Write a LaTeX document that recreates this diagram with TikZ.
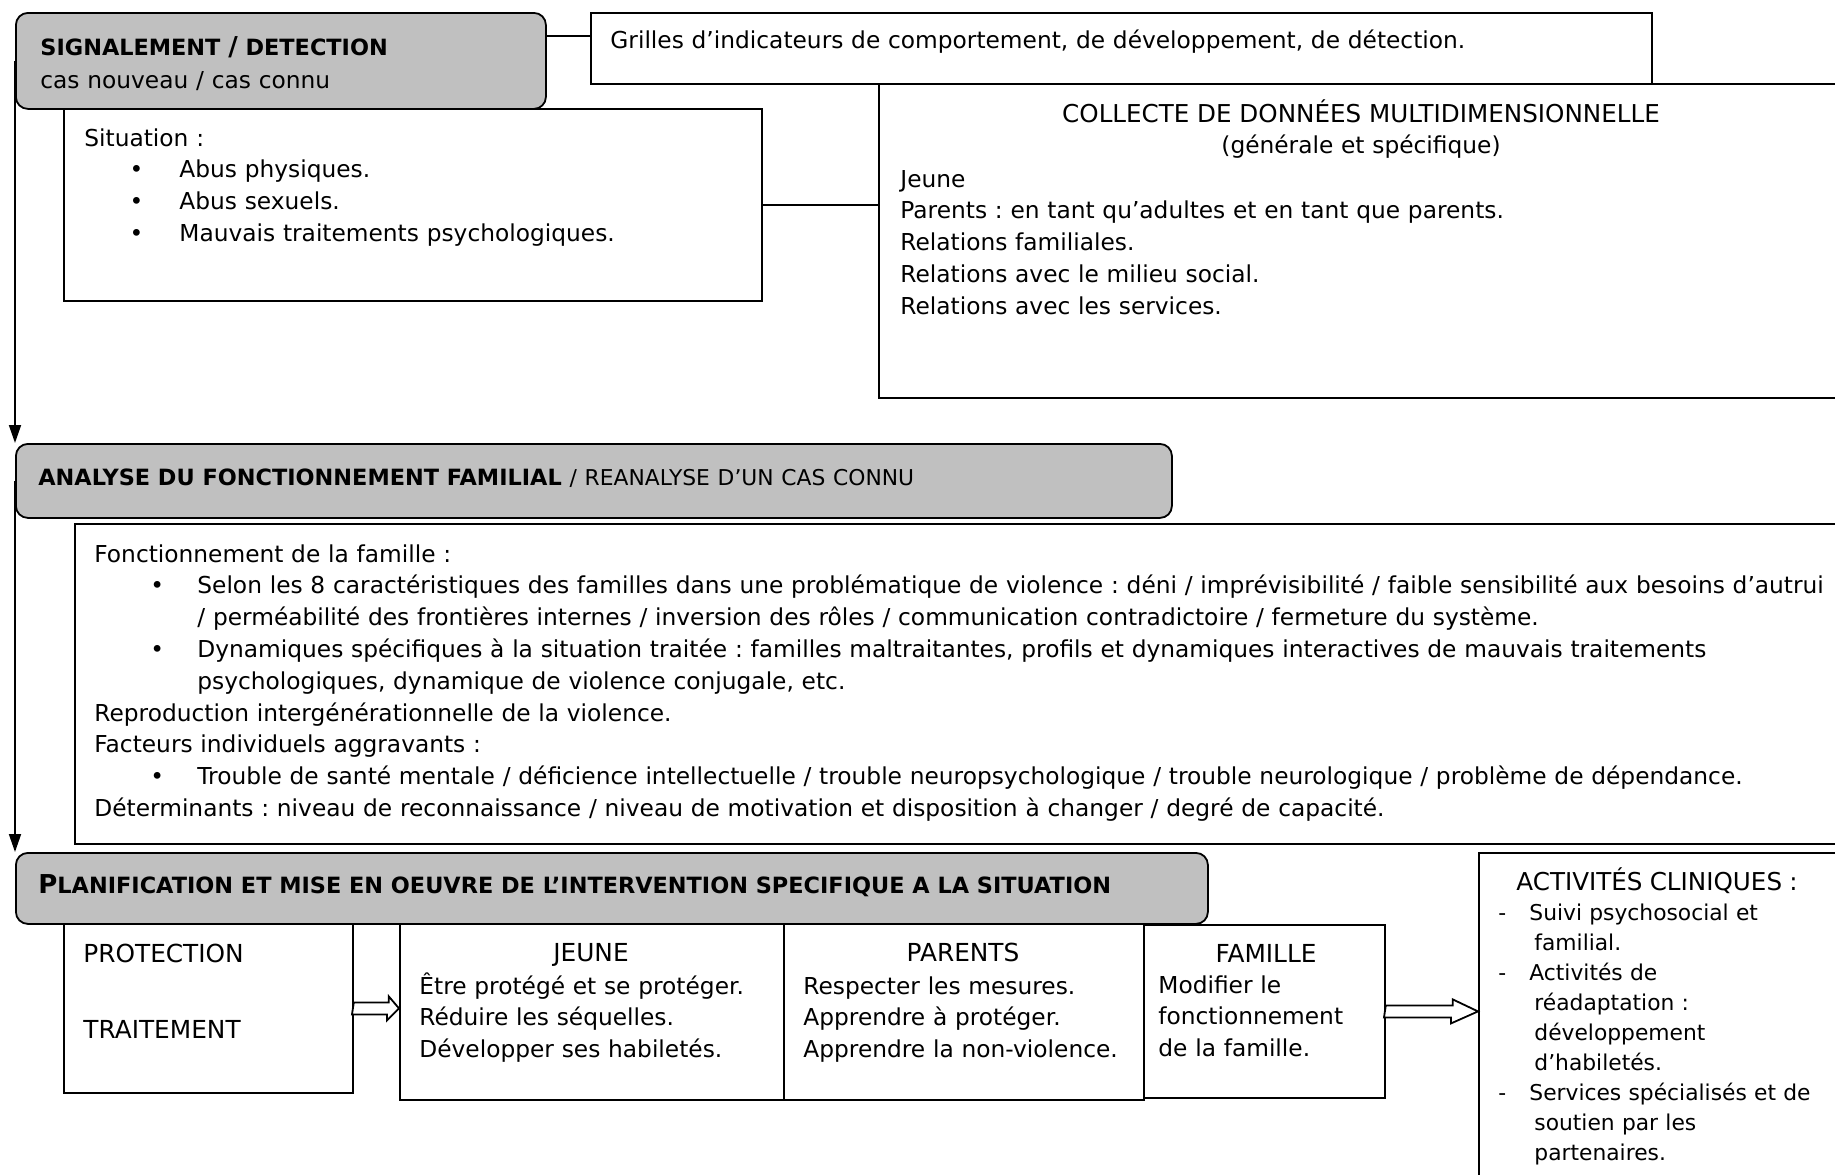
\documentclass[tikz,border=0pt]{standalone}
\usepackage{fontspec}
\setmainfont{DejaVu Sans}
\usetikzlibrary{calc,arrows.meta}
\definecolor{headgrey}{RGB}{192,192,192}
\frenchspacing
\newcommand{\bodyfont}{\fontsize{11.65}{15.9}\selectfont}
\newcommand{\capsfont}{\fontsize{12.4}{15.9}\selectfont}
\newcommand{\headfont}{\fontsize{11.2}{15}\selectfont\bfseries}
% bullet: indent, then box up to the text
\newcommand{\bul}[2]{\hspace*{#1}\makebox[#2][l]{\textbullet}}
\newcommand{\tiret}{\makebox[15.5pt][l]{-}}

\begin{document}
\begin{tikzpicture}[x=0.5pt,y=-0.5pt,
	box/.style={draw, line width=0.9pt, anchor=north west, inner sep=0pt},
	headbox/.style={box, fill=headgrey, rounded corners=6pt},
	wh/.style 2 args={minimum width=#1*0.5pt, minimum height=#2*0.5pt},
	txt/.style={anchor=base west, inner sep=0pt, align=left, text width=#1, font=\bodyfont},
	txt/.default=900pt,
	caps/.style={txt=200pt, align=center, anchor=base, font=\capsfont},
	flow/.style={-{Triangle[width=6pt,length=9pt]}, line width=0.9pt},
	link/.style={line width=0.9pt},
	hollow/.style={draw, fill=white, line width=0.9pt}]
\useasboundingbox (0,0) rectangle (1835,1174);
\clip (0,0) rectangle (1835,1174);

% boxes
\node[headbox, wh={530}{96}] (signal) at (15,12) {};
\node[box, wh={1061}{71}] (grilles) at (590,12) {};
\node[box, wh={698}{192}] (situation) at (63,108) {};
\node[box, wh={980}{314}] (collecte) at (878,83) {};
\node[headbox, wh={1156}{74}] (analyse) at (15,443) {};
\node[box, wh={1790}{320}] (fonct) at (74,523) {};
\node[headbox, wh={1192}{71}] (planif) at (15,852) {};
\node[box, wh={289}{169}] (protect) at (63,923) {};
\node[box, wh={384}{176}] (jeune) at (399,923) {};
\node[box, wh={360}{176}] (parents) at (783,923) {};
\node[box, wh={241}{173}] (famille) at (1143,924) {};
\node[box, wh={380}{340}] (activ) at (1478,852) {};

% texts
\node[txt] (signal-t) at (40,55) {{\headfont SIGNALEMENT {\fontsize{13}{15}\selectfont/} DETECTION}\\[0.6pt]cas nouveau / cas connu};
\node[txt] (grilles-t) at (610,48) {Grilles d’indicateurs de comportement, de développement, de détection.};
\node[txt] (situation-t) at (84,146) {Situation :\\
	\bul{22.6pt}{24.9pt}Abus physiques.\\
	\bul{22.6pt}{24.9pt}Abus sexuels.\\
	\bul{22.6pt}{24.9pt}Mauvais traitements psychologiques.};
\node[txt=600pt, align=center, anchor=base] (collecte-h) at (1361,122) {{\fontsize{12.3}{15.9}\selectfont COLLECTE DE DONNÉES MULTIDIMENSIONNELLE}\\(générale et spécifique)};
\node[txt] (collecte-t) at (900,187) {Jeune\\
	Parents : en tant qu’adultes et en tant que parents.\\
	Relations familiales.\\
	Relations avec le milieu social.\\
	Relations avec les services.};
\node[txt] (analyse-t) at (38,485) {{\headfont ANALYSE DU FONCTIONNEMENT FAMILIAL} {\fontsize{10.9}{15}\selectfont / REANALYSE D’UN CAS CONNU}};
\node[txt] (fonct-t) at (94,562) {Fonctionnement de la famille :\\
	\bul{28pt}{23.5pt}Selon les 8 caractéristiques des familles dans une problématique de violence : déni / imprévisibilité / faible sensibilité aux besoins d’autrui\\
	\hspace*{51.5pt}/ perméabilité des frontières internes / inversion des rôles / communication contradictoire / fermeture du système.\\
	\bul{28pt}{23.5pt}Dynamiques spécifiques à la situation traitée : familles maltraitantes, profils et dynamiques interactives de mauvais traitements\\
	\hspace*{51.5pt}psychologiques, dynamique de violence conjugale, etc.\\
	Reproduction intergénérationnelle de la violence.\\
	Facteurs individuels aggravants :\\
	\bul{28pt}{23.5pt}Trouble de santé mentale / déficience intellectuelle / trouble neuropsychologique / trouble neurologique / problème de dépendance.\\
	Déterminants : niveau de reconnaissance / niveau de motivation et disposition à changer / degré de capacité.};
\node[txt] (planif-t) at (38,893) {\bfseries{\fontsize{13}{15}\selectfont P}\fontsize{11.2}{15}\selectfont LANIFICATION ET MISE EN OEUVRE DE L’INTERVENTION SPECIFIQUE A LA SITUATION};
\node[txt, font=\capsfont] (protect-t) at (83,962) {PROTECTION\\[22.1pt]TRAITEMENT};
\node[caps] (jeune-h) at (591,961) {JEUNE};
\node[txt] (jeune-t) at (419,994) {Être protégé et se protéger.\\Réduire les séquelles.\\Développer ses habiletés.};
\node[caps] (parents-h) at (963,961) {PARENTS};
\node[txt] (parents-t) at (803,994) {Respecter les mesures.\\Apprendre à protéger.\\Apprendre la non-violence.};
\node[caps] (famille-h) at (1266,962) {FAMILLE};
\node[txt] (famille-t) at (1158,993) {Modifier le\\fonctionnement\\de la famille.};
\node[txt, font=\fontsize{10.9}{15}\selectfont] (activ-t) at (1498,890) {\hspace*{9pt}{\fontsize{12.3}{15}\selectfont ACTIVITÉS CLINIQUES :}\\
	\tiret Suivi psychosocial et\\
	\hspace*{18pt}familial.\\
	\tiret Activités de\\
	\hspace*{18pt}réadaptation :\\
	\hspace*{18pt}développement\\
	\hspace*{18pt}d’habiletés.\\
	\tiret Services spécialisés et de\\
	\hspace*{18pt}soutien par les\\
	\hspace*{18pt}partenaires.};

% connectors
\draw[link] ([yshift=12.5pt]signal.east) -- ([yshift=12.5pt]signal.east -| grilles.west);
\draw[link] (situation.east) -- (situation.east -| collecte.west);
\draw[flow] (signal.west) -- (analyse.north west);
\draw[flow] (analyse.west) -- (planif.north west);
\draw[hollow] ($(protect.east)+(0,-6)$) -- ++(35,0) -- ++(0,-6) -- (protect.east -| jeune.west) -- ++(-12,12) -- ++(0,-6) -- ++(-35,0) -- cycle;
\draw[hollow] ($(famille.east)+(0,-6)$) -- ++(67,0) -- ++(0,-6) -- (famille.east -| activ.west) -- ++(-27,12) -- ++(0,-6) -- ++(-67,0) -- cycle;
\end{tikzpicture}
\end{document}
